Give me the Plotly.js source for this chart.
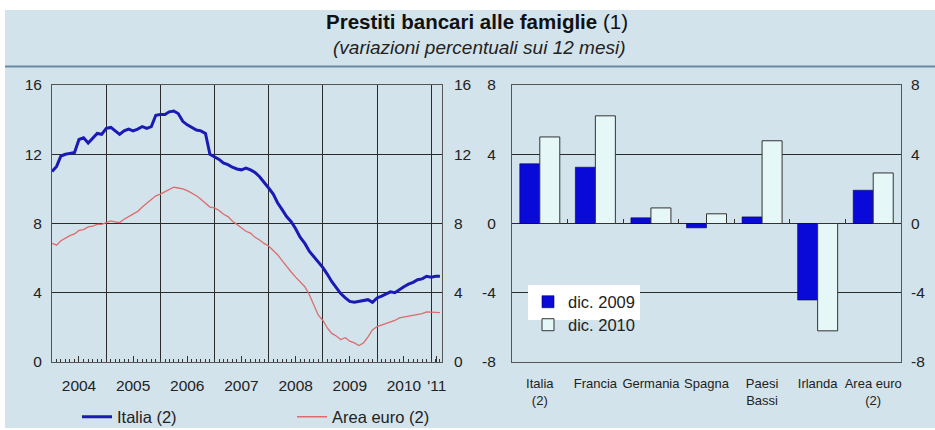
<!DOCTYPE html>
<html>
<head>
<meta charset="utf-8">
<script src="https://cdn.plot.ly/plotly-3.0.1.min.js"></script>
<style>html,body{margin:0;padding:0;background:#fff;}#chart{width:935px;height:430px;}</style>
</head>
<body>
<div id="chart"></div>
<script>
// ---- Data ----
const startYear = 2004;
const italia = [11.0,11.3,11.9,12.0,12.05,12.1,12.85,12.95,12.65,12.9,13.2,13.15,
  13.5,13.55,13.35,13.15,13.35,13.45,13.35,13.45,13.6,13.5,13.6,14.25,
  14.3,14.3,14.45,14.5,14.35,13.9,13.7,13.55,13.4,13.35,13.2,12.0,
  11.85,11.7,11.5,11.4,11.25,11.15,11.1,11.2,11.1,10.95,10.7,10.4,
  10.05,9.7,9.2,8.8,8.4,8.1,7.7,7.2,6.85,6.4,6.1,5.8,
  5.45,5.05,4.65,4.3,3.95,3.7,3.5,3.45,3.5,3.55,3.6,3.45,
  3.7,3.8,3.9,4.05,4.0,4.2,4.35,4.5,4.6,4.75,4.8,4.95,
  4.9,4.95,4.95];
const areaEuro = [6.85,6.75,7.0,7.15,7.3,7.4,7.6,7.65,7.8,7.85,7.95,7.95,
  8.05,8.15,8.1,8.05,8.25,8.4,8.55,8.7,8.95,9.15,9.35,9.6,
  9.7,9.85,10.0,10.1,10.05,10.0,9.9,9.75,9.6,9.4,9.15,8.95,
  8.9,8.75,8.55,8.4,8.15,7.95,7.75,7.55,7.45,7.2,7.05,6.85,
  6.7,6.45,6.2,5.85,5.5,5.2,4.9,4.65,4.35,3.9,3.3,2.7,
  2.4,1.95,1.65,1.5,1.3,1.4,1.2,1.1,0.95,1.1,1.45,1.85,
  2.05,2.15,2.25,2.35,2.4,2.55,2.6,2.65,2.7,2.75,2.8,2.9,
  2.9,2.87,2.85];
const yearLabels = ['2004','2005','2006','2007','2008','2009','2010',"'11"];
const yearLabelDates = ['2004-07-01','2005-07-01','2006-07-01','2007-07-01','2008-07-01','2009-07-01','2010-07-01','2011-02-08'];

const countries = ['Italia<br>(2)','Francia','Germania','Spagna','Paesi<br>Bassi','Irlanda','Area euro<br>(2)'];
const dic2009 = [3.45,3.25,0.33,-0.25,0.38,-4.42,1.92];
const dic2010 = [5.0,6.22,0.9,0.56,4.78,-6.2,2.92];
const rightTickVals = [-8,-4,0,4,8];
const rightTickText = ['-8','-4','0','4','8'];

// ---- Build ----
const months = italia.map((_, i) => {
  const y = startYear + Math.floor(i / 12);
  const m = (i % 12) + 1;
  return y + '-' + String(m).padStart(2, '0') + '-01';
});

const FONT = 'Liberation Sans, Arial, sans-serif';
const GRID = '#2a2a2a';
const LINE = '#555';
const W = 935, H = 430, ML = 52, MR = 34, MT = 85, MB = 68;
const PW = W - ML - MR, PH = H - MT - MB;
const px = v => (v - ML) / PW;           // pixel x -> paper x
const py = v => (H - MB - v) / PH;       // pixel y -> paper y

const xRange = ['2004-01-01', '2011-03-15'];

const traces = [
  {x: months, y: italia, type: 'scatter', mode: 'lines', name: 'Italia (2)',
   line: {color: '#1a1ab4', width: 3}, xaxis: 'x', yaxis: 'y', legend: 'legend'},
  {x: months, y: areaEuro, type: 'scatter', mode: 'lines', name: 'Area euro (2)',
   line: {color: '#dc6c6c', width: 1.3}, xaxis: 'x', yaxis: 'y', legend: 'legend4'},
  {x: countries, y: dic2009, type: 'bar', name: 'dic. 2009',
   marker: {color: '#0a0ad8', line: {color: '#00005a', width: 0.6}},
   xaxis: 'x2', yaxis: 'y2', legend: 'legend2'},
  {x: countries, y: dic2010, type: 'bar', name: 'dic. 2010',
   marker: {color: '#e6f7f7', line: {color: '#333', width: 1}},
   xaxis: 'x2', yaxis: 'y2', legend: 'legend3'},
  // empty helper traces so the mirrored axes get drawn (no marks)
  {x: [], y: [], type: 'scatter', mode: 'lines', xaxis: 'x', yaxis: 'y3', showlegend: false},
  {x: [], y: [], type: 'scatter', mode: 'lines', xaxis: 'x2', yaxis: 'y4', showlegend: false},
  {x: [], y: [], type: 'scatter', mode: 'lines', xaxis: 'x3', yaxis: 'y2', showlegend: false},
  {x: [], y: [], type: 'scatter', mode: 'lines', xaxis: 'x5', yaxis: 'y', showlegend: false}
];

const leftDomain = [0, px(442)];
const rightDomain = [px(512), 1];

const tickFont = {family: FONT, size: 15.5, color: '#222'};
const legFont = {family: FONT, size: 16.5, color: '#222'};

const layout = {
  width: W, height: H,
  margin: {l: ML, r: MR, t: MT, b: MB, autoexpand: false},
  paper_bgcolor: '#ffffff',
  plot_bgcolor: '#ffffff',
  font: {family: FONT, size: 15, color: '#222'},
  hovermode: false,
  showlegend: true,
  barmode: 'group', bargap: 0.28, bargroupgap: 0,
  title: {
    text: '<b>Prestiti bancari alle famiglie</b> (1)',
    font: {family: FONT, size: 20.5, color: '#111'},
    x: px(477), xanchor: 'center', xref: 'paper',
    y: 1 - 22 / H, yref: 'container', yanchor: 'middle'
  },
  annotations: [{
    text: '<i>(variazioni percentuali sui 12 mesi)</i>',
    font: {family: FONT, size: 19, color: '#222'},
    xref: 'paper', yref: 'paper', x: px(479), y: py(47),
    xanchor: 'center', yanchor: 'middle', showarrow: false
  }],
  shapes: [
    {type: 'rect', xref: 'paper', yref: 'paper', layer: 'below',
     x0: px(5), x1: px(935), y0: py(428), y1: py(10),
     fillcolor: '#d2e3ec', line: {width: 0}},
    {type: 'line', xref: 'paper', yref: 'paper',
     x0: px(5), x1: px(935), y0: py(66.5), y1: py(66.5),
     line: {color: '#6a8aa0', width: 2}}
  ],
  xaxis: {
    domain: leftDomain, anchor: 'y', type: 'date', range: xRange, automargin: false,
    tickmode: 'array', tickvals: yearLabelDates, ticktext: yearLabels,
    ticks: 'inside', ticklen: 6, tickcolor: '#333', tickwidth: 1,
    minor: {tick0: '2004-01-01', dtick: 'M1', ticks: 'inside', ticklen: 3, tickcolor: '#333', showgrid: false},
    showgrid: false, zeroline: false,
    showline: true, linecolor: LINE, linewidth: 1, mirror: true,
    tickfont: tickFont, ticklabelstandoff: 9
  },
  xaxis5: {
    overlaying: 'x', anchor: 'y', type: 'date', range: xRange, automargin: false,
    tick0: '2004-01-01', dtick: 'M12', showgrid: true, gridcolor: GRID, gridwidth: 1,
    ticks: '', showticklabels: false, zeroline: false, showline: false
  },
  yaxis: {
    domain: [0, 1], anchor: 'x', range: [0, 16], dtick: 4, tick0: 0, automargin: false,
    showgrid: true, gridcolor: GRID, gridwidth: 1, zeroline: false,
    showline: true, linecolor: LINE, linewidth: 1, mirror: true,
    ticks: '', tickfont: tickFont, ticklabelstandoff: 6
  },
  yaxis3: {
    overlaying: 'y', anchor: 'x', side: 'right', range: [0, 16], dtick: 4, tick0: 0, automargin: false,
    showgrid: false, zeroline: false, showline: false, ticks: '', tickfont: tickFont, ticklabelstandoff: 11
  },
  xaxis2: {
    domain: rightDomain, anchor: 'y2', type: 'category', automargin: false,
    categoryorder: 'array', categoryarray: countries, range: [-0.5, countries.length - 0.5],
    ticks: '', tickangle: 0, showgrid: false, zeroline: false,
    showline: true, linecolor: LINE, linewidth: 1, mirror: true,
    tickfont: {family: FONT, size: 13, color: '#222'}, ticklabelstandoff: 9
  },
  xaxis3: {
    overlaying: 'x2', anchor: 'free', position: py(224), type: 'linear', automargin: false,
    range: [-0.5, countries.length - 0.5],
    tickmode: 'array', tickvals: countries.slice(1).map((_, i) => i + 0.5),
    ticks: 'inside', ticklen: 5, tickcolor: '#333', showticklabels: false,
    showgrid: false, zeroline: false, showline: false
  },
  yaxis2: {
    domain: [0, 1], anchor: 'x2', range: [-8, 8], automargin: false,
    tickmode: 'array', tickvals: rightTickVals, ticktext: rightTickText,
    showgrid: true, gridcolor: GRID, gridwidth: 1,
    zeroline: true, zerolinecolor: GRID, zerolinewidth: 1,
    showline: true, linecolor: LINE, linewidth: 1, mirror: true,
    ticks: '', tickfont: tickFont, ticklabelstandoff: 12
  },
  yaxis4: {
    overlaying: 'y2', anchor: 'x2', side: 'right', range: [-8, 8], automargin: false,
    tickmode: 'array', tickvals: rightTickVals, ticktext: rightTickText,
    showgrid: false, zeroline: false, showline: false, ticks: '', tickfont: tickFont, ticklabelstandoff: 9
  },
  legend: {
    x: px(77), y: py(417), xanchor: 'left', yanchor: 'middle', orientation: 'v',
    bgcolor: 'rgba(0,0,0,0)', font: legFont
  },
  legend4: {
    x: px(292), y: py(417), xanchor: 'left', yanchor: 'middle', orientation: 'v',
    bgcolor: 'rgba(0,0,0,0)', font: legFont
  },
  legend2: {
    x: px(528), y: py(302), xanchor: 'left', yanchor: 'middle', orientation: 'v',
    bgcolor: '#ffffff', entrywidth: 105, font: legFont
  },
  legend3: {
    x: px(528), y: py(325), xanchor: 'left', yanchor: 'middle', orientation: 'v',
    bgcolor: 'rgba(0,0,0,0)', font: legFont
  }
};

Plotly.newPlot('chart', traces, layout, {displayModeBar: false, staticPlot: true});
</script>
</body>
</html>
